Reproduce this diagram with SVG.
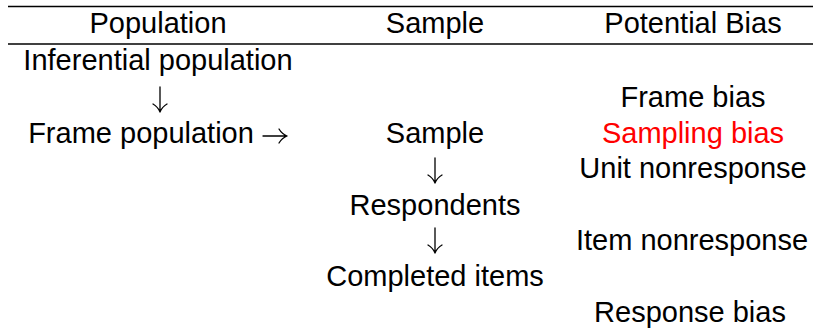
<svg xmlns="http://www.w3.org/2000/svg" width="821" height="333" viewBox="0 0 821 333">
  <style>
    text { font-family: "Liberation Sans", Arial, Helvetica, sans-serif; font-size: 29px; fill: #000; text-anchor: middle; }
    .red { fill: #ff0000; }
    .rule { stroke: #000; stroke-width: 1.4; }
    .arrow { stroke: #000; stroke-width: 1.3; fill: none; stroke-linecap: round; stroke-linejoin: round; }
  </style>
  <rect width="821" height="333" fill="#fff"/>

  <!-- table rules -->
  <line class="rule" x1="8" y1="6.5" x2="813" y2="6.5"/>
  <line class="rule" x1="8" y1="44" x2="813" y2="44"/>

  <!-- header row -->
  <g id="header">
    <text x="158" y="33">Population</text>
    <text x="435" y="33">Sample</text>
    <text x="693" y="33">Potential Bias</text>
  </g>

  <!-- population column -->
  <g id="inferential-population"><text x="158" y="70">Inferential population</text></g>
  <g id="frame-population"><text x="141" y="143">Frame population</text></g>

  <!-- sample column -->
  <g id="sample"><text x="435" y="143">Sample</text></g>
  <g id="respondents"><text x="435" y="215">Respondents</text></g>
  <g id="completed-items"><text x="435" y="286">Completed items</text></g>

  <!-- bias column -->
  <g id="frame-bias"><text x="693" y="107">Frame bias</text></g>
  <g id="sampling-bias"><text class="red" x="693" y="143">Sampling bias</text></g>
  <g id="unit-nonresponse"><text x="693" y="178">Unit nonresponse</text></g>
  <g id="item-nonresponse"><text x="692" y="250">Item nonresponse</text></g>
  <g id="response-bias"><text x="690" y="322">Response bias</text></g>

  <!-- flow arrows -->
  <g id="connectors">
    <path class="arrow" d="M160 87 V112 M153 104 Q158 107 160 112 Q162 107 167 104"/>
    <path class="arrow" d="M435 158 V183 M428 175 Q433 178 435 183 Q437 178 442 175"/>
    <path class="arrow" d="M435 228 V253 M428 245 Q433 248 435 253 Q437 248 442 245"/>
    <path class="arrow" d="M263 136 H287 M279 129 Q282 134 287 136 Q282 138 279 143"/>
  </g>
</svg>
